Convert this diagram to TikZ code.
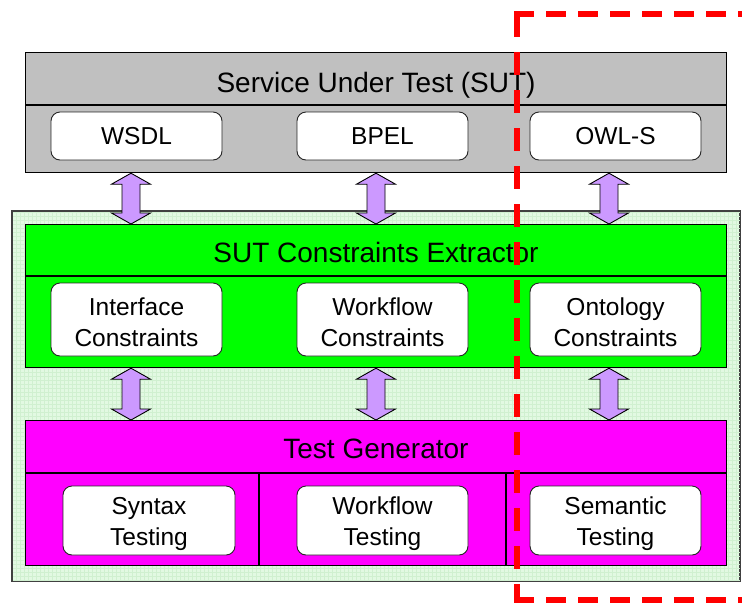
\documentclass[tikz,border=0pt]{standalone}
\usepackage{fontspec}
\setmainfont{Liberation Sans}
\usetikzlibrary{calc}
\definecolor{sutgray}{RGB}{192,192,192}
\definecolor{extgreen}{RGB}{0,255,0}
\definecolor{genmagenta}{RGB}{255,0,255}
\definecolor{palegreen}{RGB}{226,249,226}
\definecolor{gridgreen}{RGB}{208,240,208}
\definecolor{lavender}{RGB}{204,153,255}
\definecolor{framered}{RGB}{255,0,0}
\tikzset{
  layerbox/.style={draw=black, line width=1.2pt, anchor=north west, inner sep=0pt,
    minimum width=701pt},
  headtext/.style={font=\fontsize{28}{32}\selectfont, inner sep=0pt, anchor=base},
  inbox/.style={draw=black!85, fill=white, line width=0.9pt, rounded corners=9pt,
    minimum width=171pt, inner sep=0pt},
  boxtext/.style={align=center, inner sep=0pt, font=\fontsize{24.5}{30.5}\selectfont},
  biarrow/.style={draw=black, fill=lavender, line width=0.9pt, line join=miter},
  redline/.style={draw=framered, line width=6pt}
}
% vertical double arrow between two named points (#1 top, #2 bottom)
\newcommand\twowayarrow[2]{%
  \draw[biarrow] (#1) -- ($(#1)+(19.5,11)$) -- ($(#1)+(9,11)$)
    -- ($(#2)+(9,-11)$) -- ($(#2)+(19.5,-11)$) -- (#2)
    -- ($(#2)+(-19.5,-11)$) -- ($(#2)+(-9,-11)$)
    -- ($(#1)+(-9,11)$) -- ($(#1)+(-19.5,11)$) -- cycle;}
\begin{document}
\begin{tikzpicture}[x=1pt,y=-1pt]
\useasboundingbox (0,0) rectangle (742,606);
\fill[white] (0,0) rectangle (742,606);

% pale green framework panel with faint grid
\node[draw=black!75, fill=palegreen, line width=1.2pt, anchor=north west, inner sep=0pt,
  minimum width=727pt, minimum height=369pt] (frame) at (12,211) {};
\begin{scope}
  \clip (frame.north west) rectangle (frame.south east);
  \draw[gridgreen, line width=0.3pt, step=4pt] (frame.north west) grid (frame.south east);
\end{scope}
\draw[black!75, line width=1.2pt] (frame.north west) rectangle (frame.south east);

% column positions of the arrows
\coordinate (colA) at (131,0);
\coordinate (colB) at (376,0);
\coordinate (colC) at (609,0);

% Service Under Test
\node[layerbox, fill=sutgray, minimum height=120pt] (sut) at (25,52) {};
\draw[line width=1.2pt] ($(sut.north west)+(0,53)$) -- ($(sut.north east)+(0,53)$);
\node[headtext] (sutlabel) at (376,92) {Service Under Test (SUT)};
\node[inbox, minimum height=48pt] (wsdl) at (136.5,136) {};
\node[inbox, minimum height=48pt] (bpel) at (382.5,136) {};
\node[inbox, minimum height=48pt] (owls) at (615.5,136) {};
\node[boxtext] (wsdlt) at (136.5,136) {WSDL};
\node[boxtext] (bpelt) at (382.5,136) {BPEL};
\node[boxtext] (owlst) at (615.5,136) {OWL-S};

% SUT Constraints Extractor
\node[layerbox, fill=extgreen, minimum height=143pt] (ext) at (25,224) {};
\draw[line width=1.2pt] ($(ext.north west)+(0,52)$) -- ($(ext.north east)+(0,52)$);
\node[headtext] (extlabel) at (376,262) {SUT Constraints Extractor};
\node[inbox, minimum height=73pt] (ifc) at (136.5,319.5) {};
\node[inbox, minimum height=73pt] (wfc) at (382.5,319.5) {};
\node[inbox, minimum height=73pt] (onc) at (615.5,319.5) {};
\node[boxtext] (ifct) at (136.5,322) {Interface\\Constraints};
\node[boxtext] (wfct) at (382.5,322) {Workflow\\Constraints};
\node[boxtext] (onct) at (615.5,322) {Ontology\\Constraints};

% Test Generator
\node[layerbox, fill=genmagenta, minimum height=145pt] (gen) at (25,420) {};
\draw[line width=1.2pt] ($(gen.north west)+(0,53)$) -- ($(gen.north east)+(0,53)$);
\draw[line width=1.2pt] ($(gen.north west)+(234,53)$) -- ($(gen.south west)+(234,0)$);
\draw[line width=1.2pt] ($(gen.north west)+(481,53)$) -- ($(gen.south west)+(481,0)$);
\node[headtext] (genlabel) at (376,458) {Test Generator};
\node[inbox, minimum width=172pt, minimum height=69pt] (syn) at (149,520.5) {};
\node[inbox, minimum height=69pt] (wft) at (382.5,520.5) {};
\node[inbox, minimum height=69pt] (sem) at (615.5,520.5) {};
\node[boxtext, font=\fontsize{24.5}{31}\selectfont] (synt) at (149,524) {Syntax\\Testing};
\node[boxtext, font=\fontsize{24.5}{31}\selectfont] (wftt) at (382.5,524) {Workflow\\Testing};
\node[boxtext, font=\fontsize{24.5}{31}\selectfont] (semt) at (615.5,524) {Semantic\\Testing};

% arrows between the layers
\foreach \c in {colA,colB,colC}{
  \coordinate (t) at (sut.south -| \c);
  \coordinate (b) at (ext.north -| \c);
  \twowayarrow{t}{b}
  \coordinate (t) at (ext.south -| \c);
  \coordinate (b) at (gen.north -| \c);
  \twowayarrow{t}{b}
}

% dashed red boundary around the semantic column
\coordinate (rtl) at (517,14);
\coordinate (rbl) at (517,600);
\coordinate (rtop) at (746,14);
\coordinate (rbot) at (746,600);
\draw[redline, dash pattern=on 23pt off 15pt] (rtl) -- (rbl);
\draw[redline, dash pattern=on 20pt off 12pt] ($(rtl)+(-3,0)$) -- (rtop);
\draw[redline, dash pattern=on 20pt off 12pt] ($(rbl)+(-3,0)$) -- (rbot);
\end{tikzpicture}
\end{document}
